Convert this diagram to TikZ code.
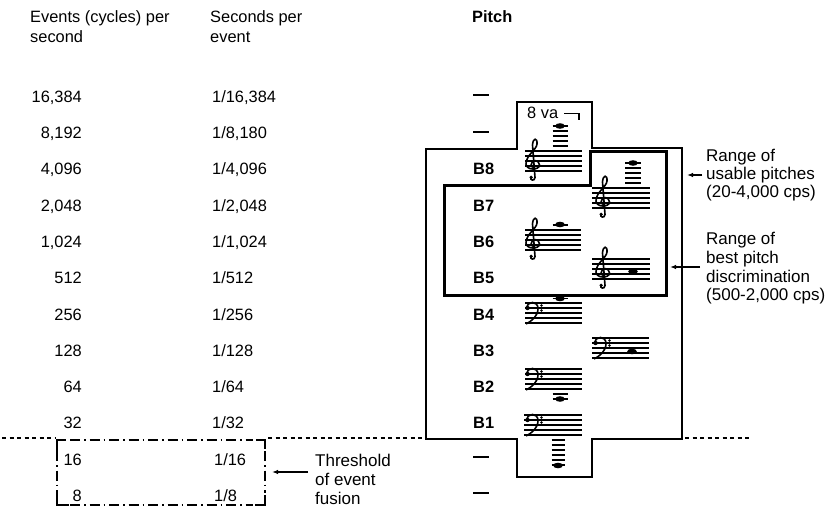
\documentclass[tikz,border=0pt]{standalone}
\usepackage{fontspec}
\setmainfont{Liberation Sans}
\usetikzlibrary{arrows.meta}
\newcommand{\mystaff}[3]{% x left, y top, width
  \foreach \k in {0,...,4} {\draw[staffline] (#1,#2+5*\k) -- ++(#3,0);}}
\newcommand{\mytreble}[2]{% x centre, y of G line
  \begin{scope}[shift={(#1,#2)}]
    \draw[clefline] (-2,11) .. controls (-3.5,14.5) and (1.8,15.5) .. (2,11.5)
      -- (-0.5,-21)
      .. controls (0,-28.5) and (4.5,-28.5) .. (4,-22)
      .. controls (3.5,-16) and (-7,-11) .. (-7,-2)
      .. controls (-7,4.5) and (6.5,4.5) .. (6.5,-1)
      .. controls (6.5,-6.5) and (-1.8,-7) .. (-1.8,-1.5)
      .. controls (-1.8,0.5) and (0,1.5) .. (1.2,1.8);
    \fill (-1.8,11.3) circle (1.8pt);
  \end{scope}}
\newcommand{\mybass}[2]{% x left, y of F line
  \begin{scope}[shift={(#1,#2)}]
    \fill (0.5,0) circle (2.2pt);
    \draw[clefline] (0,0) .. controls (0,-7.5) and (11,-7.5) .. (11,0.5)
      .. controls (11,8) and (5,13) .. (-1,16);
    \fill (14.5,-2.5) circle (1.3pt);
    \fill (14.5,2.5) circle (1.3pt);
  \end{scope}}
\newcommand{\mynote}[2]{\fill (#1,#2) ellipse [x radius=4.8pt, y radius=2.8pt];}
\newcommand{\myledger}[3]{\draw[staffline] (#1-#3,#2) -- (#1+#3,#2);}
\begin{document}
\begin{tikzpicture}[x=1pt,y=-1pt,
  txt/.style={inner sep=0pt, font=\fontsize{16.4}{19}\selectfont},
  rtxt/.style={inner sep=0pt, font=\fontsize{17}{19}\selectfont},
  btxt/.style={inner sep=0pt, font=\fontsize{16.4}{19}\selectfont\bfseries},
  staffline/.style={line width=1.1pt},
  clefline/.style={line width=1.6pt},
  outerbox/.style={line width=1.5pt, line join=miter},
  innerbox/.style={line width=3pt, line join=miter},
  sepline/.style={line width=1.1pt, dash pattern=on 4pt off 3.5pt},
  fusionbox/.style={line width=1.2pt, dash pattern=on 10pt off 4pt on 1.5pt off 4pt},
  cornerline/.style={line width=1.4pt},
  pointer/.style={line width=1.2pt, -{Latex[length=6pt,width=4.5pt]}},
  nodash/.style={line width=1.5pt}
]
\useasboundingbox (0,0) rectangle (830,508);

% headers
\node[txt, anchor=base west] (h1a) at (30,23) {Events (cycles) per};
\node[txt, anchor=base west] (h1b) at (30,43) {second};
\node[txt, anchor=base west] (h2a) at (210,23) {Seconds per};
\node[txt, anchor=base west] (h2b) at (210,43) {event};
\node[btxt, anchor=base west] (h3) at (472,23) {Pitch};

% events per second
\node[txt, anchor=base east] (ev0) at (82,102.2) {16,384};
\node[txt, anchor=base east] (ev1) at (82,138.5) {8,192};
\node[txt, anchor=base east] (ev2) at (82,174.8) {4,096};
\node[txt, anchor=base east] (ev3) at (82,211.1) {2,048};
\node[txt, anchor=base east] (ev4) at (82,247.4) {1,024};
\node[txt, anchor=base east] (ev5) at (82,283.7) {512};
\node[txt, anchor=base east] (ev6) at (82,320.0) {256};
\node[txt, anchor=base east] (ev7) at (82,356.3) {128};
\node[txt, anchor=base east] (ev8) at (82,392.6) {64};
\node[txt, anchor=base east] (ev9) at (82,428.9) {32};
\node[txt, anchor=base east] (ev10) at (82,465.2) {16};
\node[txt, anchor=base east] (ev11) at (82,501.5) {8};

% seconds per event
\node[txt, anchor=base west] (sp0) at (212,102.2) {1/16,384};
\node[txt, anchor=base west] (sp1) at (212,138.5) {1/8,180};
\node[txt, anchor=base west] (sp2) at (212,174.8) {1/4,096};
\node[txt, anchor=base west] (sp3) at (212,211.1) {1/2,048};
\node[txt, anchor=base west] (sp4) at (212,247.4) {1/1,024};
\node[txt, anchor=base west] (sp5) at (212,283.7) {1/512};
\node[txt, anchor=base west] (sp6) at (212,320.0) {1/256};
\node[txt, anchor=base west] (sp7) at (212,356.3) {1/128};
\node[txt, anchor=base west] (sp8) at (212,392.6) {1/64};
\node[txt, anchor=base west] (sp9) at (212,428.9) {1/32};
\node[txt, anchor=base west] (sp10) at (214,465.2) {1/16};
\node[txt, anchor=base west] (sp11) at (214,501.5) {1/8};

% pitch labels
\node[btxt, anchor=base west] (b8) at (473,174.8) {B8};
\node[btxt, anchor=base west] (b7) at (473,211.1) {B7};
\node[btxt, anchor=base west] (b6) at (473,247.4) {B6};
\node[btxt, anchor=base west] (b5) at (473,283.7) {B5};
\node[btxt, anchor=base west] (b4) at (473,320.0) {B4};
\node[btxt, anchor=base west] (b3) at (473,356.3) {B3};
\node[btxt, anchor=base west] (b2) at (473,392.6) {B2};
\node[btxt, anchor=base west] (b1) at (473,428.9) {B1};
\draw[nodash] (473,95) -- (489,95);
\draw[nodash] (473,132) -- (489,132);
\draw[nodash] (473,457) -- (489,457);
\draw[nodash] (473,493) -- (489,493);

% boxes
\draw[outerbox] (426,149) -- (517,149) -- (517,102) -- (592,102) -- (592,148)
  -- (682,148) -- (682,439) -- (592,439) -- (592,477) -- (517,477) -- (517,439)
  -- (426,439) -- cycle;
\draw[innerbox] (444,185) -- (590,185) -- (590,152) -- (666,152) -- (666,295)
  -- (444,295) -- cycle;

% separation line
\draw[sepline] (2,438) -- (55,438);
\draw[sepline] (268,438) -- (426,438);
\draw[sepline] (685,438) -- (750,438);

% threshold box
\draw[fusionbox] (70,440) -- (253,440);
\draw[fusionbox] (70,505) -- (253,505);
\draw[fusionbox] (57,451) -- (57,493);
\draw[fusionbox] (265,451) -- (265,493);
\draw[cornerline] (57,451) -- (57,440) -- (66,440);
\draw[cornerline] (256,440) -- (265,440) -- (265,449);
\draw[cornerline] (57,493) -- (57,505) -- (69,505);
\draw[cornerline] (255,505) -- (265,505) -- (265,495);

% staves
% B8
\mystaff{525}{151}{57}
\mytreble{533}{166}
\foreach \yy in {146,141,136,131,126} {\myledger{560}{\yy}{7.5}}
\mynote{560}{126}
\node[txt, anchor=base west] (ottava) at (527,118.5) {8 va};
\draw[line width=1.3pt] (564,113.5) -- (579,113.5) -- (579,120);
% B7
\mystaff{592}{188}{58}
\mytreble{603}{203}
\foreach \yy in {183,178,173,168,163} {\myledger{633}{\yy}{8}}
\mynote{633}{163}
% B6
\mystaff{525}{230}{56}
\mytreble{533}{245}
\myledger{560}{225}{7.5}
\mynote{560}{224.5}
% B5
\mystaff{592}{259}{58}
\mytreble{603}{274}
\mynote{633}{271.5}
% B4
\mystaff{525}{303}{57}
\mybass{527}{308}
\myledger{560}{298.5}{7.5}
\mynote{560}{298.5}
% B3
\mystaff{592}{338}{57}
\mybass{595}{343}
\mynote{632}{351.5}
% B2
\mystaff{525}{369}{57}
\mybass{527}{374}
\myledger{560}{394}{7.5}
\myledger{560}{399}{7.5}
\mynote{560}{399}
% B1
\mystaff{524}{415}{58}
\mybass{527}{420}
\foreach \yy in {440,445,450,455,460,465} {\myledger{558}{\yy}{6.5}}
\mynote{558}{465.5}

% right labels
\node[rtxt, anchor=base west] (u1) at (706,161.7) {Range of};
\node[rtxt, anchor=base west] (u2) at (706,179.7) {usable pitches};
\node[rtxt, anchor=base west] (u3) at (706,197.7) {(20-4,000 cps)};
\coordinate (ut) at (702,175);
\coordinate (uh) at (687,175);
\draw[pointer] (ut) -- (uh);

\node[rtxt, anchor=base west] (d1) at (706,244.6) {Range of};
\node[rtxt, anchor=base west] (d2) at (706,263.3) {best pitch};
\node[rtxt, anchor=base west] (d3) at (706,282.0) {discrimination};
\node[rtxt, anchor=base west] (d4) at (706,300.7) {(500-2,000 cps)};
\coordinate (dt) at (700,267);
\coordinate (dh) at (670,267);
\draw[pointer] (dt) -- (dh);

\node[rtxt, anchor=base west] (t1) at (315,466.7) {Threshold};
\node[rtxt, anchor=base west] (t2) at (315,485.7) {of event};
\node[rtxt, anchor=base west] (t3) at (315,504.7) {fusion};
\coordinate (tt) at (308,472);
\coordinate (th) at (272,472);
\draw[pointer] (tt) -- (th);
\end{tikzpicture}
\end{document}
